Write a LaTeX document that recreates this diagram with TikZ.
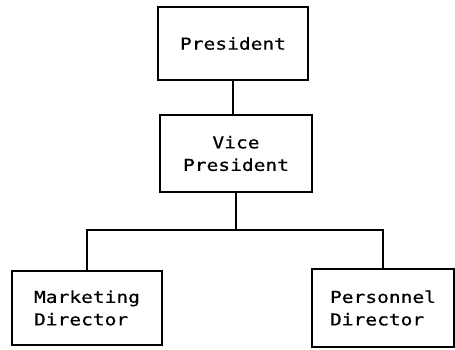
\documentclass[tikz,border=0pt]{standalone}
\usepackage{fontspec}
\newfontfamily\chartfont[FakeStretch=1.2,FakeBold=0.6]{DejaVu Sans Mono}
\begin{document}
\begin{tikzpicture}[x=1pt,y=-1pt,
  box/.style={draw=black, line width=2pt, rectangle, inner sep=0pt,
    font=\chartfont\fontsize{16.3}{22.5}\selectfont},
  link/.style={draw=black, line width=1.8pt}]
  \useasboundingbox[fill=white] (0,0) rectangle (455,349);
  % boxes
  \node[box, minimum width=150pt, minimum height=73pt, align=center] (pres) at (233,43.5) {President};
  \node[box, minimum width=152pt, minimum height=77pt, align=center] (vp) at (236,153.5) {Vice\\President};
  \node[box, minimum width=150pt, minimum height=74pt, align=left] (mkt) at (87,308) {Marketing\\Director};
  \node[box, minimum width=142pt, minimum height=78pt, align=left] (per) at (383,308) {Personnel\\Director};
  % reporting lines
  \coordinate (bus) at (0,230);
  \draw[link] (pres.south) -- (pres.south |- vp.north);
  \draw[link] (vp.south) -- (vp.south |- bus);
  \draw[link] (mkt.north) -- (mkt.north |- bus) -- (per.north |- bus) -- (per.north);
\end{tikzpicture}
\end{document}
